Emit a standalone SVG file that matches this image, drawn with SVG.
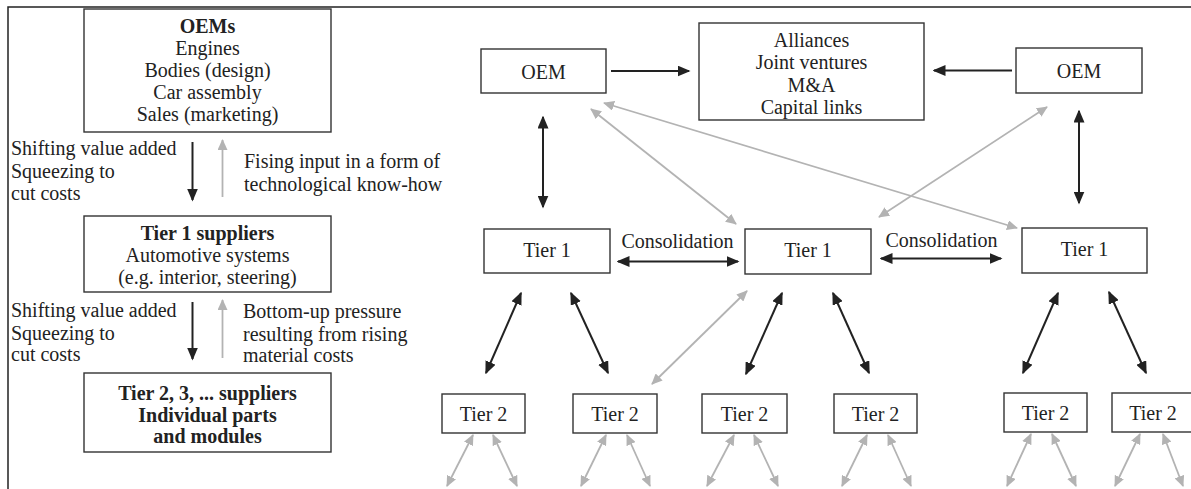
<svg xmlns="http://www.w3.org/2000/svg" width="1191" height="489" viewBox="0 0 1191 489" font-family="'Liberation Serif', Tinos, 'Times New Roman', Times, 'DejaVu Serif', serif">
  <style>
    text { font-family: 'Liberation Serif', Tinos, 'Times New Roman', Times, 'DejaVu Serif', serif; font-size: 20px; fill: #222; }
    .c { text-anchor: middle; }
    .b { font-weight: bold; }
    .box { fill: #fff; stroke: #333; stroke-width: 1.4; }
    .dk { stroke: #222; stroke-width: 2; fill: none; }
    .lt { stroke: #b3b3b3; stroke-width: 1.8; fill: none; }
    .frame { stroke: #222; stroke-width: 1.5; fill: none; }
  </style>
  <defs>
    <marker id="hd" markerUnits="userSpaceOnUse" markerWidth="13" markerHeight="11" refX="11.5" refY="5.5" orient="auto-start-reverse">
      <path d="M0,0 L13,5.5 L0,11 z" fill="#222"/>
    </marker>
    <marker id="hl" markerUnits="userSpaceOnUse" markerWidth="11" markerHeight="10" refX="10" refY="5" orient="auto-start-reverse">
      <path d="M0,0 L11,5 L0,10 z" fill="#b3b3b3"/>
    </marker>
  </defs>

  <rect width="1191" height="489" fill="#fff"/>

  <!-- outer frame -->
  <path class="frame" d="M8,489 V7 H1191"/>

  <!-- left panel: value chain levels -->
  <g id="oems">
    <rect class="box" x="84" y="9" width="247" height="123"/>
    <text class="c b" x="207.5" y="33">OEMs</text>
    <text class="c" x="207.5" y="55">Engines</text>
    <text class="c" x="207.5" y="77">Bodies (design)</text>
    <text class="c" x="207.5" y="99">Car assembly</text>
    <text class="c" x="207.5" y="121">Sales (marketing)</text>
  </g>
  <g id="tier1-suppliers">
    <rect class="box" x="84" y="216" width="247" height="76"/>
    <text class="c b" x="207.5" y="240">Tier 1 suppliers</text>
    <text class="c" x="207.5" y="262">Automotive systems</text>
    <text class="c" x="207.5" y="284">(e.g. interior, steering)</text>
  </g>
  <g id="tier2-suppliers">
    <rect class="box" x="84" y="373" width="247" height="79"/>
    <text class="c b" x="207.5" y="400">Tier 2, 3, ... suppliers</text>
    <text class="c b" x="207.5" y="422">Individual parts</text>
    <text class="c b" x="207.5" y="443">and modules</text>
  </g>
  <g id="flow-labels">
    <text x="11" y="155">Shifting value added</text>
    <text x="11" y="178">Squeezing to</text>
    <text x="11" y="200">cut costs</text>
    <text x="244" y="168">Fising input in a form of</text>
    <text x="244" y="191">technological know-how</text>
    <text x="11" y="317">Shifting value added</text>
    <text x="11" y="340">Squeezing to</text>
    <text x="11" y="361">cut costs</text>
    <text x="243" y="318">Bottom-up pressure</text>
    <text x="243" y="341">resulting from rising</text>
    <text x="243" y="362">material costs</text>
  </g>

  <!-- right panel: network nodes -->
  <g id="oem-left">
    <rect class="box" x="481" y="49" width="125" height="44"/>
    <text class="c" x="543.5" y="79">OEM</text>
  </g>
  <g id="alliances">
    <rect class="box" x="699" y="23" width="225" height="97"/>
    <text class="c" x="811.5" y="47">Alliances</text>
    <text class="c" x="811.5" y="69">Joint ventures</text>
    <text class="c" x="811.5" y="91.5">M&amp;A</text>
    <text class="c" x="811.5" y="113.5">Capital links</text>
  </g>
  <g id="oem-right">
    <rect class="box" x="1016" y="48" width="126" height="45"/>
    <text class="c" x="1079" y="78">OEM</text>
  </g>
  <g id="tier1-a">
    <rect class="box" x="484" y="229" width="126" height="44"/>
    <text class="c" x="547" y="257">Tier 1</text>
  </g>
  <g id="tier1-b">
    <rect class="box" x="745" y="229" width="126" height="45"/>
    <text class="c" x="808" y="257">Tier 1</text>
  </g>
  <g id="tier1-c">
    <rect class="box" x="1022" y="228" width="125" height="45"/>
    <text class="c" x="1084.5" y="256">Tier 1</text>
  </g>
  <g id="tier2-a">
    <rect class="box" x="442" y="394" width="83" height="39"/>
    <text class="c" x="483.5" y="421">Tier 2</text>
  </g>
  <g id="tier2-b">
    <rect class="box" x="573" y="394" width="84" height="39"/>
    <text class="c" x="615" y="421">Tier 2</text>
  </g>
  <g id="tier2-c">
    <rect class="box" x="702" y="394" width="85" height="39"/>
    <text class="c" x="744.5" y="421">Tier 2</text>
  </g>
  <g id="tier2-d">
    <rect class="box" x="834" y="394" width="83" height="39"/>
    <text class="c" x="875.5" y="421">Tier 2</text>
  </g>
  <g id="tier2-e">
    <rect class="box" x="1004" y="393" width="83" height="39"/>
    <text class="c" x="1045.5" y="420">Tier 2</text>
  </g>
  <g id="tier2-f">
    <rect class="box" x="1112" y="393" width="84" height="39"/>
    <text class="c" x="1153" y="420">Tier 2</text>
  </g>
  <g id="consolidation-labels">
    <text class="c" x="677.5" y="248">Consolidation</text>
    <text class="c" x="941.5" y="247">Consolidation</text>
  </g>

  <!-- connectors -->
  <g id="connectors">
    <!-- left panel flows -->
    <line class="dk" x1="192.5" y1="142" x2="192.5" y2="200" marker-end="url(#hd)"/>
    <line class="lt" x1="222.5" y1="197" x2="222.5" y2="140" marker-end="url(#hl)"/>
    <line class="dk" x1="192.5" y1="302" x2="192.5" y2="359" marker-end="url(#hd)"/>
    <line class="lt" x1="222.5" y1="358" x2="222.5" y2="300" marker-end="url(#hl)"/>

    <!-- OEMs to alliances -->
    <line class="dk" x1="611" y1="71" x2="689" y2="71" marker-end="url(#hd)"/>
    <line class="dk" x1="1012" y1="70.5" x2="934" y2="70.5" marker-end="url(#hd)"/>

    <!-- OEM to Tier 1 -->
    <line class="dk" x1="543" y1="117" x2="543" y2="207" marker-start="url(#hd)" marker-end="url(#hd)"/>
    <line class="dk" x1="1079" y1="111" x2="1079" y2="203" marker-start="url(#hd)" marker-end="url(#hd)"/>

    <!-- consolidation -->
    <line class="dk" x1="618" y1="261.5" x2="738" y2="261.5" marker-start="url(#hd)" marker-end="url(#hd)"/>
    <line class="dk" x1="881" y1="258.5" x2="1001" y2="258.5" marker-start="url(#hd)" marker-end="url(#hd)"/>

    <!-- cross links -->
    <line class="lt" x1="591" y1="109" x2="736" y2="224" marker-start="url(#hl)" marker-end="url(#hl)"/>
    <line class="lt" x1="604" y1="103" x2="1017" y2="228" marker-start="url(#hl)" marker-end="url(#hl)"/>
    <line class="lt" x1="1047" y1="107" x2="879" y2="217" marker-start="url(#hl)" marker-end="url(#hl)"/>
    <line class="lt" x1="747" y1="291" x2="652" y2="384" marker-start="url(#hl)" marker-end="url(#hl)"/>

    <!-- Tier 1 to Tier 2 -->
    <line class="dk" x1="521" y1="293" x2="486" y2="373" marker-start="url(#hd)" marker-end="url(#hd)"/>
    <line class="dk" x1="571" y1="293" x2="608" y2="373" marker-start="url(#hd)" marker-end="url(#hd)"/>
    <line class="dk" x1="782" y1="293" x2="746" y2="374" marker-start="url(#hd)" marker-end="url(#hd)"/>
    <line class="dk" x1="833" y1="293" x2="869" y2="373" marker-start="url(#hd)" marker-end="url(#hd)"/>
    <line class="dk" x1="1058" y1="293" x2="1023" y2="373" marker-start="url(#hd)" marker-end="url(#hd)"/>
    <line class="dk" x1="1109" y1="292" x2="1146" y2="373" marker-start="url(#hd)" marker-end="url(#hd)"/>

    <!-- Tier 2 fan-out -->
    <line class="lt" x1="473" y1="435" x2="447" y2="486" marker-start="url(#hl)" marker-end="url(#hl)"/>
    <line class="lt" x1="493" y1="435" x2="517" y2="486" marker-start="url(#hl)" marker-end="url(#hl)"/>
    <line class="lt" x1="606" y1="435" x2="581" y2="486" marker-start="url(#hl)" marker-end="url(#hl)"/>
    <line class="lt" x1="627" y1="435" x2="650" y2="486" marker-start="url(#hl)" marker-end="url(#hl)"/>
    <line class="lt" x1="734" y1="435" x2="707" y2="486" marker-start="url(#hl)" marker-end="url(#hl)"/>
    <line class="lt" x1="754" y1="435" x2="778" y2="486" marker-start="url(#hl)" marker-end="url(#hl)"/>
    <line class="lt" x1="867" y1="435" x2="842" y2="486" marker-start="url(#hl)" marker-end="url(#hl)"/>
    <line class="lt" x1="888" y1="435" x2="911" y2="486" marker-start="url(#hl)" marker-end="url(#hl)"/>
    <line class="lt" x1="1031" y1="434" x2="1007" y2="486" marker-start="url(#hl)" marker-end="url(#hl)"/>
    <line class="lt" x1="1052" y1="434" x2="1076" y2="486" marker-start="url(#hl)" marker-end="url(#hl)"/>
    <line class="lt" x1="1140" y1="434" x2="1115" y2="486" marker-start="url(#hl)" marker-end="url(#hl)"/>
    <line class="lt" x1="1163" y1="434" x2="1183" y2="486" marker-start="url(#hl)" marker-end="url(#hl)"/>
  </g>
</svg>
